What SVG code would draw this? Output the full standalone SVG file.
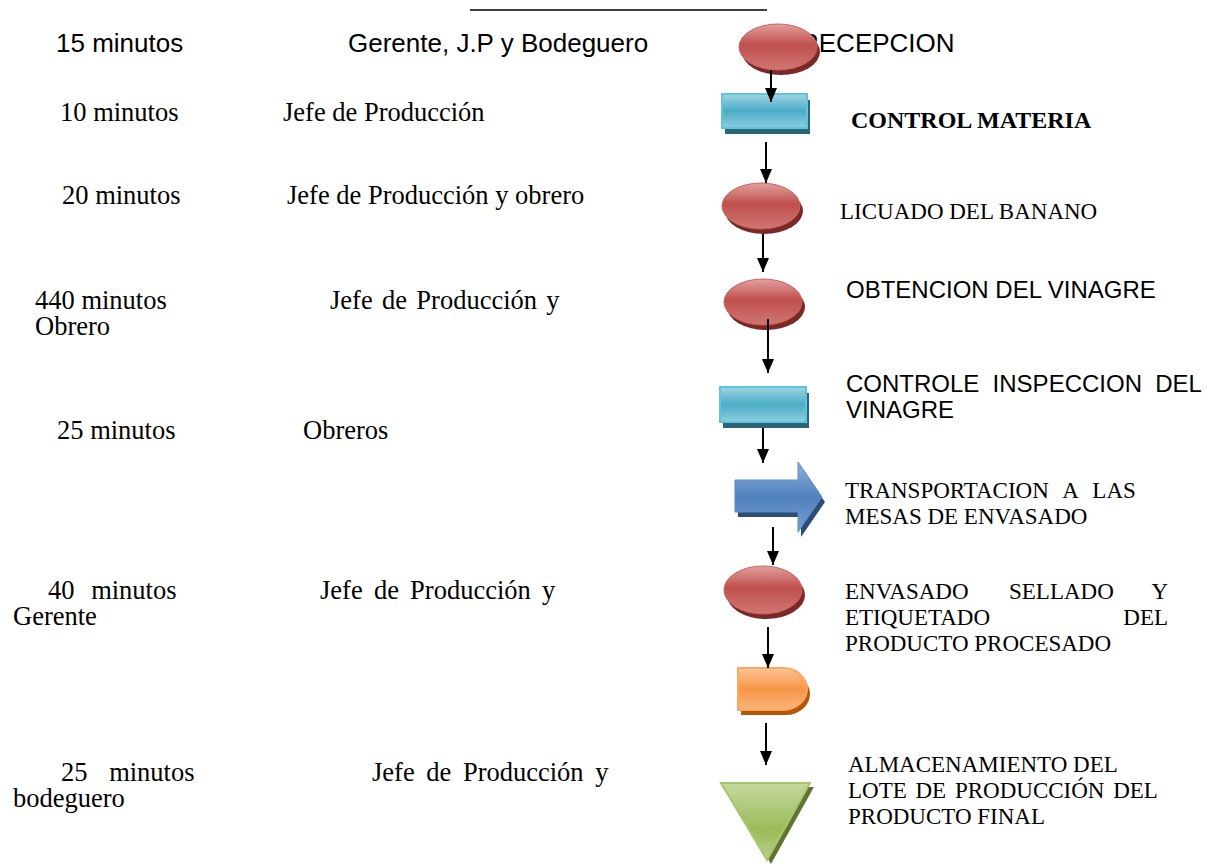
<svg xmlns="http://www.w3.org/2000/svg" width="1221" height="866" viewBox="0 0 1221 866">
<defs>
<linearGradient id="gRed" x1="0" y1="0" x2="0" y2="1"><stop offset="0" stop-color="#e2a09e"/><stop offset="0.45" stop-color="#c0504d"/><stop offset="1" stop-color="#cf7674"/></linearGradient>
<linearGradient id="gCyan" x1="0" y1="0" x2="0" y2="1"><stop offset="0" stop-color="#9fd6e4"/><stop offset="0.5" stop-color="#4bacc6"/><stop offset="1" stop-color="#8ccfe0"/></linearGradient>
<linearGradient id="gBlue" x1="0" y1="0" x2="0" y2="1"><stop offset="0" stop-color="#8fb0da"/><stop offset="0.5" stop-color="#4f81bd"/><stop offset="1" stop-color="#7a9fd0"/></linearGradient>
<linearGradient id="gOrange" x1="0" y1="0" x2="0" y2="1"><stop offset="0" stop-color="#fbc496"/><stop offset="0.5" stop-color="#f79646"/><stop offset="1" stop-color="#fab47c"/></linearGradient>
<linearGradient id="gGreen" x1="0" y1="0" x2="0" y2="1"><stop offset="0" stop-color="#c6d9a0"/><stop offset="0.6" stop-color="#9bbb59"/><stop offset="1" stop-color="#b8cf8a"/></linearGradient>
<marker id="ah" markerUnits="userSpaceOnUse" viewBox="0 0 14 12" markerWidth="14" markerHeight="12" refX="14" refY="6" orient="auto"><path d="M0,0 L14,6 L0,12 Z" fill="#000"/></marker>
</defs>
<style>
.ar{font-family:"Liberation Sans",Arial,sans-serif;font-size:26px;fill:#000}
.ar24{font-family:"Liberation Sans",Arial,sans-serif;font-size:24px;fill:#000}
.tl{font-family:"Liberation Serif","Times New Roman",serif;font-size:26.5px;fill:#000}
.tr{font-family:"Liberation Serif","Times New Roman",serif;font-size:23px;fill:#000}
.tb{font-family:"Liberation Serif","Times New Roman",serif;font-size:24px;font-weight:bold;fill:#000}
.ell{fill:url(#gRed);stroke:#c9625f;stroke-width:1}
.ellS{fill:#7b2927}
.rc{fill:url(#gCyan);stroke:#62c3dc;stroke-width:2}
.rcS{fill:#2b6676}
.con{stroke:#000;stroke-width:2;fill:none;marker-end:url(#ah)}
</style>
<rect width="1221" height="866" fill="#fff"/>
<line x1="470" y1="10" x2="767" y2="10" stroke="#000" stroke-width="1.5"/>

<g id="labels-left">
<text class="ar" x="56" y="52">15 minutos</text>
<text class="ar" x="348" y="52">Gerente, J.P y Bodeguero</text>
<text class="tl" x="60" y="121">10 minutos</text>
<text class="tl" x="283" y="121">Jefe de Producción</text>
<text class="tl" x="62" y="204">20 minutos</text>
<text class="tl" x="287" y="204">Jefe de Producción y obrero</text>
<text class="tl" x="35" y="309">440 minutos</text>
<text class="tl" x="35" y="335">Obrero</text>
<text class="tl" x="330" y="309" word-spacing="2.7">Jefe de Producción y</text>
<text class="tl" x="57" y="439">25 minutos</text>
<text class="tl" x="303" y="439">Obreros</text>
<text class="tl" x="48" y="599" word-spacing="10">40 minutos</text>
<text class="tl" x="13" y="625">Gerente</text>
<text class="tl" x="320" y="599" word-spacing="4.6">Jefe de Producción y</text>
<text class="tl" x="61" y="781" word-spacing="15">25 minutos</text>
<text class="tl" x="13" y="807">bodeguero</text>
<text class="tl" x="372" y="781" word-spacing="5">Jefe de Producción y</text>
</g>

<g id="n1-recepcion">
<text class="ar" x="800" y="52">RECEPCION</text>
<ellipse class="ellS" cx="781" cy="52" rx="39" ry="23"/>
<ellipse class="ell" cx="778" cy="47" rx="39" ry="23"/>
</g>

<g id="n2-control-materia">
<rect class="rcS" x="725" y="100" width="85" height="34"/>
<rect class="rc" x="722" y="94" width="85" height="34"/>
<text class="tb" x="851" y="128">CONTROL MATERIA</text>
</g>

<g id="n3-licuado">
<ellipse class="ellS" cx="764" cy="211" rx="39" ry="23"/>
<ellipse class="ell" cx="761" cy="206" rx="39" ry="23"/>
<text class="tr" x="840" y="219">LICUADO DEL BANANO</text>
</g>

<g id="n4-obtencion">
<ellipse class="ellS" cx="766" cy="307" rx="39" ry="23"/>
<ellipse class="ell" cx="763" cy="302" rx="39" ry="23"/>
<text class="ar24" x="846" y="298">OBTENCION DEL VINAGRE</text>
</g>

<g id="n5-controle">
<rect class="rcS" x="723" y="393" width="86" height="35"/>
<rect class="rc" x="720" y="387" width="86" height="35"/>
<text class="ar24" x="846" y="392" word-spacing="6.6">CONTROLE INSPECCION DEL</text>
<text class="ar24" x="846" y="418">VINAGRE</text>
</g>

<g id="n6-transportacion">
<path d="M738,485 H801 V467 L825,502 L801,537 V517 H738 Z" fill="#2c4d75"/>
<path d="M735,480 H798 V462 L822,497 L798,532 V512 H735 Z" fill="url(#gBlue)" stroke="#5b8ac4" stroke-width="1"/>
<text class="tr" x="845" y="498" word-spacing="9">TRANSPORTACION A LAS</text>
<text class="tr" x="845" y="524">MESAS DE ENVASADO</text>
</g>

<g id="n7-envasado">
<ellipse class="ellS" cx="766" cy="595" rx="39" ry="24"/>
<ellipse class="ell" cx="763" cy="590" rx="39" ry="24"/>
<text class="tr" x="845" y="599">ENVASADO</text>
<text class="tr" x="1009" y="599">SELLADO</text>
<text class="tr" x="1168" y="599" text-anchor="end">Y</text>
<text class="tr" x="845" y="625">ETIQUETADO</text>
<text class="tr" x="1168" y="625" text-anchor="end">DEL</text>
<text class="tr" x="845" y="651">PRODUCTO PROCESADO</text>
</g>

<g id="n8-demora">
<path d="M741,673 H786 A24,21 0 0 1 786,715 H741 Z" fill="#b65708"/>
<path d="M738,668 H783 A24,21 0 0 1 783,710 H738 Z" fill="url(#gOrange)" stroke="#f9a860" stroke-width="2"/>
</g>

<g id="n9-almacenamiento">
<path d="M725,787 L814,787 L771,864 Z" fill="#5f7530"/>
<path d="M721,783 L810,783 L767,860 Z" fill="url(#gGreen)" stroke="#a9c66e" stroke-width="2"/>
<text class="tr" x="848" y="772">ALMACENAMIENTO DEL</text>
<text class="tr" x="848" y="798" word-spacing="3">LOTE DE PRODUCCIÓN DEL</text>
<text class="tr" x="848" y="824">PRODUCTO FINAL</text>
</g>

<g id="connectors">
<line class="con" x1="771" y1="70" x2="771" y2="102"/>
<line class="con" x1="766" y1="142" x2="766" y2="183"/>
<line class="con" x1="763" y1="234" x2="763" y2="272"/>
<line class="con" x1="768" y1="319" x2="768" y2="373"/>
<line class="con" x1="763" y1="428" x2="763" y2="463"/>
<line class="con" x1="773" y1="527" x2="773" y2="565"/>
<line class="con" x1="768" y1="627" x2="768" y2="668"/>
<line class="con" x1="766" y1="723" x2="766" y2="765"/>
</g>
</svg>
